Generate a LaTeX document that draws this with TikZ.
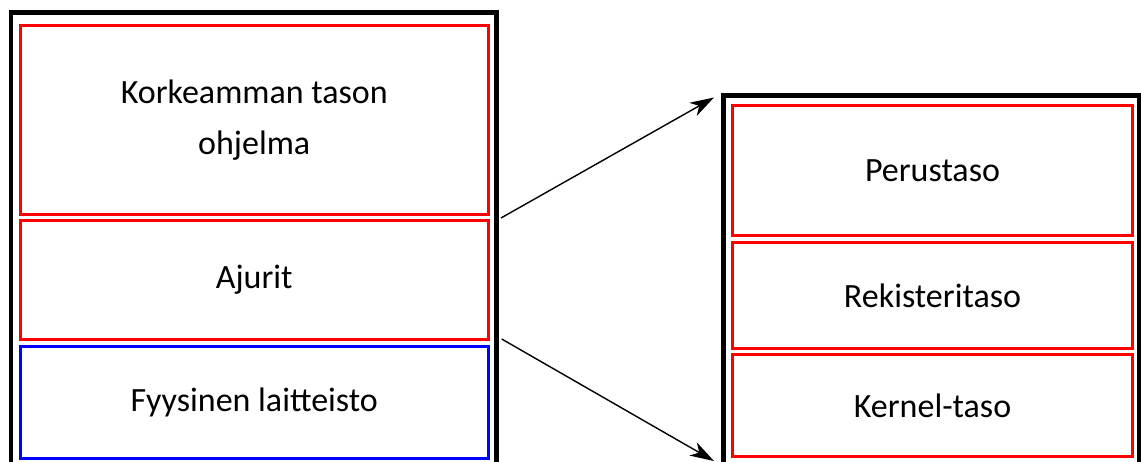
\documentclass[tikz,border=0pt]{standalone}
\usepackage{fontspec}
\setmainfont{Carlito}
\usetikzlibrary{arrows.meta}
\begin{document}
\begin{tikzpicture}[x=1pt,y=-1pt,
  outer/.style={draw=black, line width=4.5pt},
  layer/.style={draw=red, line width=3pt, rectangle, inner sep=0pt, anchor=north west, align=center,
    font=\fontsize{34}{51}\selectfont},
  hwlayer/.style={layer, draw=blue},
  conn/.style={line width=1.4pt, -{Stealth[length=24pt,width=15pt,inset=7pt]}}]
\useasboundingbox (0,0) rectangle (1141,461);
\clip (0,0) rectangle (1141,461);
\fill[white] (0,0) rectangle (1141,461);
% outer frames
\draw[outer] (11,480) -- (11,12.5) -- (496.5,12.5) -- (496.5,480);
\draw[outer] (723.5,480) -- (723.5,95.5) -- (1139.5,95.5) -- (1139.5,480);
% left stack
\node[layer, minimum width=467.5pt, minimum height=189pt] (k1) at (19,24) {Korkeamman tason\\ohjelma};
\node[layer, minimum width=467.5pt, minimum height=119.5pt] (k2) at (19,218.5) {Ajurit};
\node[hwlayer, minimum width=467.5pt, minimum height=112pt] (k3) at (19,345) {Fyysinen laitteisto};
% right stack
\node[layer, minimum width=400.6pt, minimum height=130pt] (r1) at (730.7,104) {Perustaso};
\node[layer, minimum width=400.6pt, minimum height=106.3pt] (r2) at (730.7,240.7) {Rekisteritaso};
\node[layer, minimum width=400.6pt, minimum height=102pt] (r3) at (730.7,353) {\raisebox{-3pt}{Kernel-taso}};
% connectors
\coordinate (a1s) at (501,218);
\coordinate (a1e) at (714,97.5);
\coordinate (a2s) at (501.7,339);
\coordinate (a2e) at (714,461);
\draw[conn] (a1s) -- (a1e);
\draw[conn] (a2s) -- (a2e);
\end{tikzpicture}
\end{document}
